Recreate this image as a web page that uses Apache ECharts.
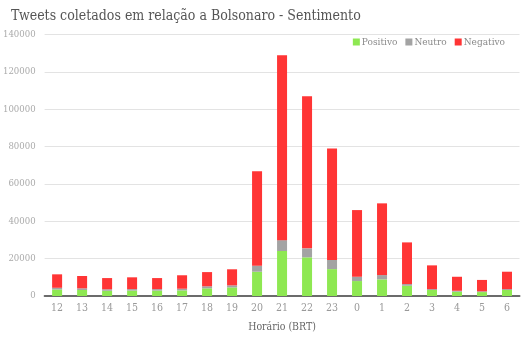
<!DOCTYPE html>
<html>
<head>
<meta charset="utf-8">
<script src="https://cdn.jsdelivr.net/npm/echarts@6/dist/echarts.min.js"></script>
<style>
  html, body { margin: 0; padding: 0; background: #ffffff; }
  #chart { width: 530px; height: 340px; }
</style>
</head>
<body>
<div id="chart"></div>
<script>
// Hours of the day (BRT)
const hours = ['12', '13', '14', '15', '16', '17', '18', '19', '20', '21', '22', '23',
               '0', '1', '2', '3', '4', '5', '6'];

// Tweet counts per hour by sentiment
const positivo = [3500, 3200, 2800, 2900, 2900, 3000, 4100, 4600, 13000, 24100, 20700, 14400,
                  8000, 8900, 5500, 3200, 2300, 2100, 3200];
const neutro   = [900, 900, 800, 800, 800, 900, 1100, 1100, 3200, 5800, 4800, 4900,
                  2300, 2300, 900, 500, 500, 400, 500];
const negativo = [7200, 6600, 6000, 6300, 5900, 7200, 7600, 8600, 50600, 99000, 81500, 59700,
                  35700, 38400, 22300, 12700, 7500, 6100, 9300];

const yTicks = [0, 20000, 40000, 60000, 80000, 100000, 120000, 140000];

const labelFont = '"DejaVu Serif Condensed", "DejaVu Serif", serif';

const chart = echarts.init(document.getElementById('chart'));
chart.setOption({
  animation: false,
  title: {
    text: 'Tweets coletados em relação a Bolsonaro - Sentimento',
    left: 6,
    top: 4,
    textStyle: { fontFamily: labelFont, fontWeight: 'normal', fontSize: 14, color: '#555555' }
  },
  legend: {
    right: 20,
    top: 32,
    itemWidth: 7,
    itemHeight: 7,
    itemGap: 8,
    icon: 'rect',
    textStyle: { fontFamily: labelFont, fontSize: 10, color: '#8a8a8a', padding: [0, 0, 0, -3] },
    data: ['Positivo', 'Neutro', 'Negativo']
  },
  grid: { left: 44.5, right: 10.5, top: 34.5, bottom: 44, containLabel: false },
  xAxis: {
    type: 'category',
    data: hours,
    name: 'Horário (BRT)',
    nameLocation: 'middle',
    nameGap: 26,
    nameTextStyle: { fontFamily: labelFont, fontSize: 10.5, color: '#666666' },
    axisLine: { lineStyle: { color: '#6b6b6b', width: 2 } },
    axisTick: { show: false },
    axisLabel: { fontFamily: labelFont, fontSize: 10.5, color: '#999999', margin: 7 }
  },
  yAxis: {
    type: 'value',
    min: yTicks[0],
    max: yTicks[yTicks.length - 1],
    interval: 20000,
    axisLine: { show: false },
    axisTick: { show: false },
    axisLabel: {
      fontFamily: labelFont, fontSize: 9.5, color: '#aaaaaa', margin: 9,
      formatter: v => String(v)
    },
    splitLine: { lineStyle: { color: '#e3e3e3', width: 1 } }
  },
  series: [
    { name: 'Positivo', type: 'bar', stack: 'total', barWidth: 10, data: positivo,
      itemStyle: { color: '#8ee852' } },
    { name: 'Neutro', type: 'bar', stack: 'total', barWidth: 10, data: neutro,
      itemStyle: { color: '#a3a3a3' } },
    { name: 'Negativo', type: 'bar', stack: 'total', barWidth: 10, data: negativo,
      itemStyle: { color: '#ff3535' } }
  ]
});
</script>
</body>
</html>
